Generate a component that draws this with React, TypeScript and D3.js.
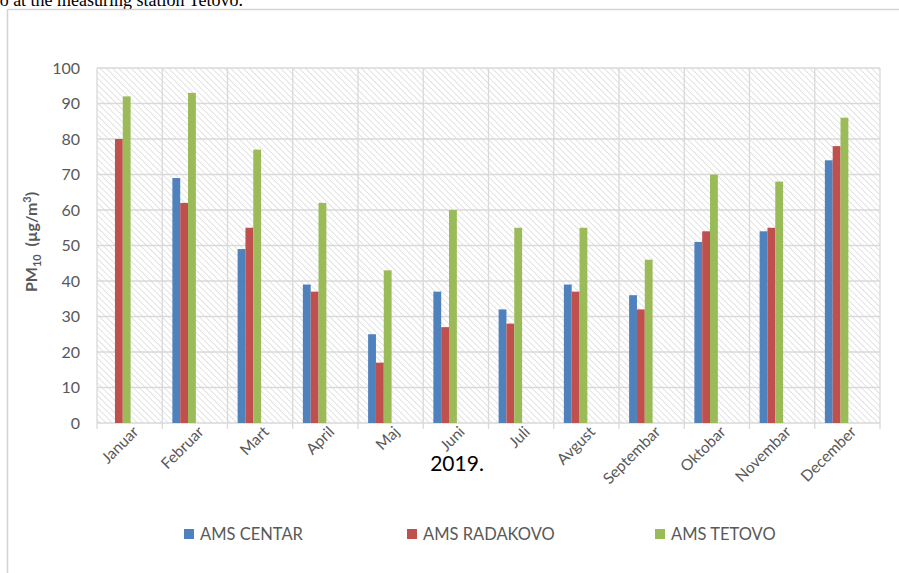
import React from "react";
import * as d3 from "d3";

const months = ["Januar","Februar","Mart","April","Maj","Juni","Juli","Avgust","Septembar","Oktobar","Novembar","December"];
const seriesNames = ["AMS CENTAR","AMS RADAKOVO","AMS TETOVO"];
const centar: (number | null)[] = [null,69,49,39,25,37,32,39,36,51,54,74];
const radakovo = [80,62,55,37,17,27,28,37,32,54,55,78];
const tetovo = [92,93,77,62,43,60,55,55,46,70,68,86];
const yTicks = [0,10,20,30,40,50,60,70,80,90,100];
const colors = ["#4F81BD","#C0504D","#9BBB59"];

const W = 899, H = 573;
const plot = { left: 97, right: 880, top: 68, bottom: 423 };
const font = "Lato, 'Open Sans', sans-serif";

export default function App() {
  const x = d3.scaleBand<string>().domain(months).range([plot.left, plot.right]).padding(0);
  const y = d3.scaleLinear().domain([0, 100]).range([plot.bottom, plot.top]);
  const bw = x.bandwidth();
  const sub = d3.scaleBand<string>().domain(seriesNames)
    .range([bw * 0.155, bw * 0.155 + bw * 0.36]).padding(0);
  const data = [centar, radakovo, tetovo];

  return (
    <svg width={W} height={H} style={{ position: "absolute", left: 0, top: 0, background: "#fff" }}>
      <defs>
        <pattern id="hatch" patternUnits="userSpaceOnUse" width={4.4} height={4.4} patternTransform="rotate(-45)">
          <rect width={4.4} height={4.4} fill="#fff" />
          <line x1={0} y1={0} x2={0} y2={4.4} stroke="#d4d4d4" strokeWidth={1.3} />
        </pattern>
      </defs>

      <text x={243} y={6} textAnchor="end" fontFamily="'Liberation Serif', serif" fontSize={18} fill="#000">
        o at the measuring station Tetovo.
      </text>

      {/* chart frame */}
      <line x1={8} x2={W} y1={9.5} y2={9.5} stroke="#d4d4d4" strokeWidth={1.5} />
      <line x1={7.5} x2={7.5} y1={9} y2={H} stroke="#d4d4d4" strokeWidth={1.5} />

      {/* plot area */}
      <rect x={plot.left} y={plot.top} width={plot.right - plot.left} height={plot.bottom - plot.top} fill="url(#hatch)" />
      {yTicks.map(t => (
        <line key={"g" + t} x1={plot.left} x2={plot.right} y1={y(t)} y2={y(t)} stroke="#d9d9d9" strokeWidth={1.3} />
      ))}
      {months.map(m => (
        <line key={"v" + m} x1={x(m)!} x2={x(m)!} y1={plot.top} y2={plot.bottom + 6} stroke="#d9d9d9" strokeWidth={1.3} />
      ))}
      <line x1={plot.right} x2={plot.right} y1={plot.top} y2={plot.bottom + 6} stroke="#d9d9d9" strokeWidth={1.3} />

      {/* bars */}
      {data.map((vals, si) => vals.map((v, i) => v == null ? null : (
        <rect key={si + "-" + i}
          x={x(months[i])! + sub(seriesNames[si])!}
          y={y(v)}
          width={sub.bandwidth()}
          height={y(0) - y(v)}
          fill={colors[si]} />
      )))}

      {/* y tick labels */}
      {yTicks.map(t => (
        <text key={"t" + t} x={80} y={y(t)} dy="0.35em" textAnchor="end" fontFamily={font} fontSize={16} fill="#595959">{t}</text>
      ))}

      {/* y title */}
      <text transform={`translate(37,242) rotate(-90)`} textAnchor="middle" fontFamily={font} fontSize={16} fontWeight="bold" fill="#595959" style={{ whiteSpace: "pre" }}>
        PM<tspan fontSize={11} dy={4}>10</tspan><tspan dy={-4}>{"  (µg/m"}</tspan><tspan fontSize={11} dy={-6}>3</tspan><tspan dy={6}>)</tspan>
      </text>

      {/* x labels */}
      {months.map(m => (
        <text key={"x" + m} transform={`translate(${x(m)! + bw / 2 + 6},${plot.bottom + 6}) rotate(-45)`}
          textAnchor="end" dy="0.35em" fontFamily={font} fontSize={15.5} fill="#595959">{m}</text>
      ))}

      <text x={457} y={471} textAnchor="middle" fontFamily={font} fontSize={21} fill="#000">2019.</text>

      {/* legend */}
      {seriesNames.map((s, i) => {
        const lx = [184, 407, 655][i];
        return (
          <g key={s}>
            <rect x={lx} y={529} width={10} height={10} fill={colors[i]} />
            <text x={lx + 16} y={534} dy="0.35em" fontFamily={font} fontSize={16.5} fill="#595959">{s}</text>
          </g>
        );
      })}
    </svg>
  );
}
